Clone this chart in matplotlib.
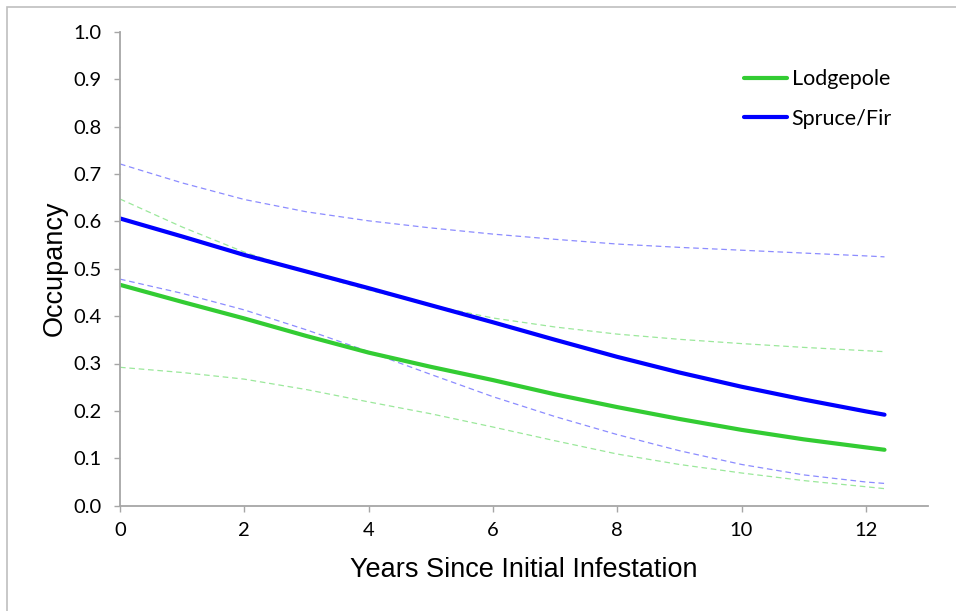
"""
plot.py - Occupancy vs years since initial infestation (Lodgepole vs Spruce/Fir).
"""
import matplotlib
matplotlib.use("Agg")
import matplotlib.pyplot as plt
from matplotlib.patches import Rectangle

# Years since initial infestation
years = [0, 1, 2, 3, 4, 5, 6, 7, 8, 9, 10, 11, 12, 12.3]

# Modelled occupancy (solid) and confidence bounds (dashed)
lodgepole = [0.466, 0.430, 0.395, 0.358, 0.323, 0.293, 0.265, 0.235, 0.208, 0.183, 0.160, 0.140, 0.123, 0.118]
lodgepole_hi = [0.647, 0.588, 0.535, 0.492, 0.455, 0.423, 0.396, 0.377, 0.362, 0.351, 0.342, 0.334, 0.327, 0.325]
lodgepole_lo = [0.292, 0.281, 0.267, 0.245, 0.219, 0.194, 0.166, 0.137, 0.109, 0.087, 0.069, 0.053, 0.040, 0.036]

spruce = [0.606, 0.568, 0.529, 0.494, 0.459, 0.423, 0.387, 0.350, 0.314, 0.281, 0.251, 0.224, 0.199, 0.192]
spruce_hi = [0.721, 0.681, 0.646, 0.620, 0.601, 0.586, 0.573, 0.562, 0.552, 0.545, 0.539, 0.533, 0.527, 0.525]
spruce_lo = [0.478, 0.448, 0.413, 0.371, 0.325, 0.277, 0.230, 0.188, 0.150, 0.116, 0.087, 0.065, 0.050, 0.047]

x_ticks = [0, 2, 4, 6, 8, 10, 12]
y_ticks = [0.0, 0.1, 0.2, 0.3, 0.4, 0.5, 0.6, 0.7, 0.8, 0.9, 1.0]

GREEN = "#33CC33"
BLUE = "#0000FF"
GREEN_LIGHT = "#9BE89B"
BLUE_LIGHT = "#8C8CFF"
AXIS_GRAY = "#A6A6A6"

fig = plt.figure(figsize=(9.56, 6.11), dpi=100)
ax = fig.add_axes([120 / 956, 1 - 505.7 / 611, 808 / 956, 474 / 611])

# Outer chart border (Excel-style), runs off the right/bottom edge
fig.patches.append(Rectangle((7 / 956, -0.1), 2.0, 1 - 7 / 611 + 0.1,
                             transform=fig.transFigure, fill=False,
                             edgecolor="#BFBFBF", linewidth=1.2))

# Confidence bounds
ax.plot(years, lodgepole_hi, color=GREEN_LIGHT, lw=0.9, dashes=(4.5, 3))
ax.plot(years, lodgepole_lo, color=GREEN_LIGHT, lw=0.9, dashes=(4.5, 3))
ax.plot(years, spruce_hi, color=BLUE_LIGHT, lw=0.9, dashes=(4.5, 3))
ax.plot(years, spruce_lo, color=BLUE_LIGHT, lw=0.9, dashes=(4.5, 3))

# Main curves
ax.plot(years, lodgepole, color=GREEN, lw=3, solid_capstyle="round", label="Lodgepole")
ax.plot(years, spruce, color=BLUE, lw=3, solid_capstyle="round", label="Spruce/Fir")

ax.set_xlim(0, 13)
ax.set_ylim(0, 1.0)
ax.set_xticks(x_ticks)
ax.set_yticks(y_ticks)
ax.set_xticklabels([str(t) for t in x_ticks], family="Lato", fontsize=14.5)
ax.set_yticklabels([f"{t:.1f}" for t in y_ticks], family="Lato", fontsize=14.5)

for side in ("top", "right"):
    ax.spines[side].set_visible(False)
for side in ("left", "bottom"):
    ax.spines[side].set_color(AXIS_GRAY)
    ax.spines[side].set_linewidth(1.3)
ax.tick_params(axis="both", direction="out", length=4.5, width=1, color=AXIS_GRAY)
ax.tick_params(axis="x", pad=7)
ax.tick_params(axis="y", pad=9)

ax.set_xlabel("Years Since Initial Infestation", family="Liberation Sans", fontsize=19.5, labelpad=13)
ax.set_ylabel("Occupancy", family="Liberation Sans", fontsize=19.5, labelpad=4)

leg = ax.legend(loc="upper left", bbox_to_anchor=(725 / 956, 1 - 50 / 611),
                bbox_transform=fig.transFigure, frameon=False,
                prop={"family": "Lato", "size": 15.5}, handlelength=2.0,
                handletextpad=0.2, labelspacing=0.9)

plt.savefig("out.png", dpi=100)
plt.close(fig)
